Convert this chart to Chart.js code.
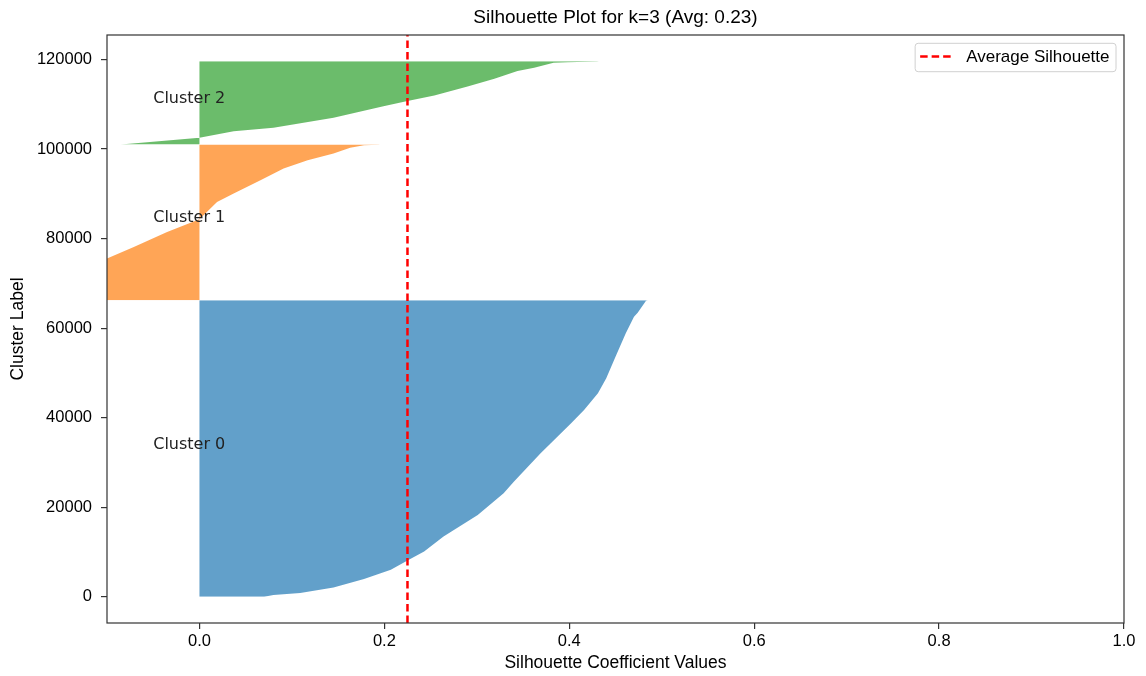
<!DOCTYPE html>
<html>
  <head>
    <script src="https://cdn.jsdelivr.net/npm/chart.js@4"></script>
    <style>
      body { margin: 0; background: #fff; }
    </style>
  </head>

  <body>
    <div style="width: 1146px; height: 676px">
      <canvas id="canvas"></canvas>
    </div>
    <script>
      // sorted silhouette values per cluster (x) against their row position (y)
      const cluster0Y = [10, 400, 825, 2074, 3948, 6022, 8096, 10104, 13449, 18289, 23129, 25717, 32051, 34281, 38742, 41709, 45433, 48779, 53597, 58816, 62518, 63410, 66088, 66200];
      const cluster0X = [0.07, 0.08, 0.109, 0.145, 0.178, 0.207, 0.225, 0.243, 0.264, 0.301, 0.329, 0.34, 0.369, 0.38, 0.402, 0.416, 0.431, 0.44, 0.45, 0.461, 0.47, 0.474, 0.483, 0.485];

      const cluster1Y = [66210, 75544, 78131, 81464, 84300, 88167, 90040, 93007, 95617, 97468, 98962, 100300, 100813, 100970, 101000];
      const cluster1X = [-0.2, -0.1, -0.071, -0.035, 0.0, 0.019, 0.037, 0.066, 0.091, 0.117, 0.145, 0.163, 0.178, 0.194, 0.195];

      const cluster2Y = [101010, 102500, 103937, 104762, 106993, 109513, 110695, 111966, 113973, 115691, 117386, 118144, 119259, 119393, 119549, 119600];
      const cluster2X = [-0.085, 0.0, 0.037, 0.08, 0.145, 0.199, 0.225, 0.254, 0.29, 0.319, 0.344, 0.362, 0.383, 0.398, 0.43, 0.432];

      const avgScore = 0.225;
      const clusterNames = ['Cluster 0', 'Cluster 1', 'Cluster 2'];
      const labelX = -0.05;

      const xTicks = [0, 0.2, 0.4, 0.6, 0.8, 1.0];
      const yTicks = [0, 20000, 40000, 60000, 80000, 100000, 120000];
      const xRange = [-0.1, 1.0];
      const yRange = [-5850, 125450];

      const colors = ['rgba(31,119,180,0.7)', 'rgba(255,127,14,0.7)', 'rgba(44,160,44,0.7)'];
      const sans = "'Liberation Sans', Arial, sans-serif";

      const clusters = [
        [cluster0X, cluster0Y],
        [cluster1X, cluster1Y],
        [cluster2X, cluster2Y],
      ];

      const clusterSets = clusters.map(([xs, ys], i) => ({
        label: clusterNames[i],
        data: xs.map((x, j) => ({ x, y: ys[j] })),
        backgroundColor: colors[i],
        borderColor: 'rgba(0,0,0,0)',
        borderWidth: 0,
        pointRadius: 0,
        tension: 0,
        fill: { value: 0 },
      }));

      const avgSet = {
        label: 'Average Silhouette',
        data: [{ x: avgScore, y: yRange[0] }, { x: avgScore, y: yRange[1] }],
        borderColor: '#ff0000',
        borderWidth: 2.5,
        borderDash: [7.5, 4],
        pointRadius: 0,
        fill: false,
      };

      // spines, cluster names and the legend box
      const overlay = {
        id: 'overlay',
        afterDatasetsDraw(chart) {
          const { ctx, chartArea: a, scales } = chart;
          ctx.save();

          ctx.font = "16px 'DejaVu Sans'";
          ctx.fillStyle = '#222';
          ctx.textAlign = 'left';
          ctx.textBaseline = 'alphabetic';
          clusters.forEach(([xs, ys], i) => {
            const mid = (ys[0] + ys[ys.length - 1]) / 2;
            ctx.fillText(clusterNames[i], scales.x.getPixelForValue(labelX), scales.y.getPixelForValue(mid));
          });

          ctx.strokeStyle = '#333';
          ctx.lineWidth = 1.2;
          ctx.strokeRect(a.left, a.top, a.right - a.left, a.bottom - a.top);

          // legend
          ctx.font = '17px ' + sans;
          const tw = ctx.measureText(avgSet.label).width;
          const w = 5 + 33 + 13 + tw + 6.5;
          const h = 28.4;
          const right = a.right - 8;
          const left = right - w;
          const top = a.top + 8.3;
          ctx.beginPath();
          ctx.roundRect(left, top, w, h, 3);
          ctx.fillStyle = 'rgba(255,255,255,0.8)';
          ctx.fill();
          ctx.strokeStyle = '#d0d0d0';
          ctx.lineWidth = 1;
          ctx.stroke();

          ctx.beginPath();
          ctx.setLineDash(avgSet.borderDash);
          ctx.strokeStyle = avgSet.borderColor;
          ctx.lineWidth = avgSet.borderWidth;
          ctx.moveTo(left + 5, top + 13.3);
          ctx.lineTo(left + 38, top + 13.3);
          ctx.stroke();
          ctx.setLineDash([]);

          ctx.fillStyle = '#000';
          ctx.textBaseline = 'middle';
          ctx.fillText(avgSet.label, left + 51, top + 14);
          ctx.restore();
        },
      };

      const tickGrid = {
        display: true,
        drawOnChartArea: false,
        drawTicks: true,
        tickLength: 6,
        color: '#333',
        lineWidth: 1.2,
      };

      new Chart(document.getElementById('canvas').getContext('2d'), {
        type: 'line',
        data: { datasets: [avgSet, ...clusterSets] },
        options: {
          indexAxis: 'y',
          responsive: true,
          maintainAspectRatio: false,
          animation: false,
          events: [],
          layout: { padding: { left: 0, right: 22, top: 0, bottom: 0 } },
          scales: {
            x: {
              type: 'linear',
              min: xRange[0],
              max: xRange[1],
              afterBuildTicks: (s) => { s.ticks = xTicks.map((v) => ({ value: v })); },
              afterFit: (s) => { s.height = 53; },
              grid: tickGrid,
              border: { display: false },
              ticks: {
                padding: 2.5,
                color: '#000',
                font: { family: sans, size: 16.5 },
                maxRotation: 0,
                callback: (v) => Number(v).toFixed(1),
              },
              title: {
                display: true,
                text: 'Silhouette Coefficient Values',
                color: '#000',
                font: { family: sans, size: 17.5 },
                padding: { top: 2.5, bottom: 2.5 },
              },
            },
            y: {
              type: 'linear',
              min: yRange[0],
              max: yRange[1],
              afterBuildTicks: (s) => { s.ticks = yTicks.map((v) => ({ value: v })); },
              afterFit: (s) => { s.width = 107; },
              grid: tickGrid,
              border: { display: false },
              ticks: {
                padding: 9,
                color: '#000',
                font: { family: sans, size: 16.5 },
                callback: (v) => String(v),
              },
              title: {
                display: true,
                text: 'Cluster Label',
                color: '#000',
                font: { family: sans, size: 17.5 },
                padding: { top: 7.5, bottom: 7.5 },
              },
            },
          },
          plugins: {
            legend: { display: false },
            tooltip: { enabled: false },
            title: {
              display: true,
              text: 'Silhouette Plot for k=3 (Avg: 0.23)',
              fullSize: false,
              color: '#000',
              font: { family: sans, size: 19, weight: 'normal' },
              padding: { top: 6.6, bottom: 5.6 },
            },
          },
        },
        plugins: [overlay],
      });
    </script>
  </body>
</html>
